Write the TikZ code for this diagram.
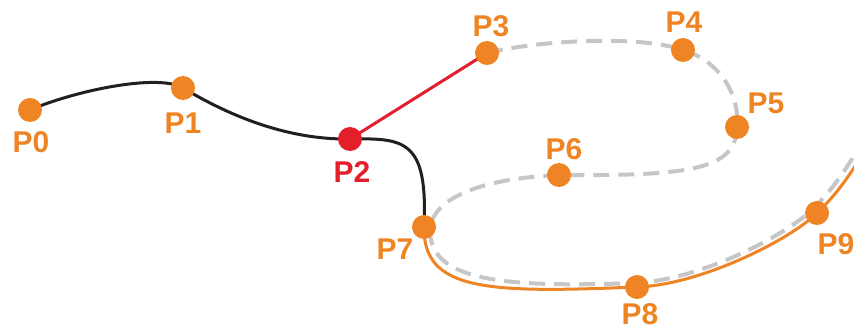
\documentclass[tikz,border=0pt]{standalone}
\usepackage{fontspec}
\setmainfont{Liberation Sans}
\definecolor{ptorange}{HTML}{EE8424}
\definecolor{ptred}{HTML}{E21F2B}
\definecolor{ptblack}{HTML}{231F20}
\definecolor{ptgray}{HTML}{C6C6C6}
\begin{document}
\begin{tikzpicture}[x=1pt,y=-1pt]
    \tikzstyle{dot} = [circle, fill=ptorange, inner sep=0pt, minimum size=24pt]
    \tikzstyle{reddot} = [dot, fill=ptred]
    \tikzstyle{lbl} = [text=ptorange, font=\fontsize{30}{33}\selectfont\bfseries, inner sep=0pt]
    \tikzstyle{blackline} = [line width=3pt, ptblack]
    \tikzstyle{redline} = [line width=3pt, ptred]
    \tikzstyle{orangeline} = [line width=3pt, ptorange]
    \tikzstyle{guide} = [line width=4pt, ptgray, dash pattern=on 16pt off 9pt]

    \clip (0,0) rectangle (854,334);

    % control points
    \coordinate (p0) at (30,110);
    \coordinate (p1) at (183,88);
    \coordinate (p2) at (350,139);
    \coordinate (p3) at (487,53);
    \coordinate (p4) at (683,50);
    \coordinate (p5) at (737,127);
    \coordinate (p6) at (559,175);
    \coordinate (p7) at (424,227);
    \coordinate (p8) at (637,287);
    \coordinate (p9) at (817,213);
    \coordinate (oend) at (862,155);
    \coordinate (gend) at (857,151);

    % dashed guide curve
    \draw [guide] (p3) .. controls (540,40) and (640,35) .. (p4)
        .. controls (720,61) and (740,95) .. (p5)
        .. controls (736,170) and (690,176) .. (p6)
        .. controls (490,178) and (430,195) .. (430,232)
        .. controls (432,280) and (500,288) .. (635,283)
        .. controls (700,280) and (785,236) .. (813,209)
        .. controls (830,192) and (843,174) .. (gend);

    % curves
    \draw [orangeline] (p7) .. controls (423,292) and (490,293) .. (p8)
        .. controls (700,285) and (790,240) .. (p9)
        .. controls (835,196) and (848,178) .. (oend);
    \draw [blackline] (p0) .. controls (74,91) and (158,73) .. (p1)
        .. controls (220,110) and (280,140) .. (p2)
        .. controls (405,138) and (428,140) .. (p7);
    \draw [redline] (p2) -- (p3);

    % dots
    \foreach \p in {p0,p1,p3,p4,p5,p6,p7,p8,p9}
        \node [dot] at (\p) {};
    \node [reddot] at (p2) {};

    % labels
    \node [lbl] (t0) at (31,142) {P0};
    \node [lbl] (t1) at (183,123) {P1};
    \node [lbl, text=ptred] (t2) at (352,172) {P2};
    \node [lbl] (t3) at (491,26) {P3};
    \node [lbl] (t4) at (684,22) {P4};
    \node [lbl] (t5) at (766,103) {P5};
    \node [lbl] (t6) at (564,149) {P6};
    \node [lbl] (t7) at (395,249) {P7};
    \node [lbl] (t8) at (640,314) {P8};
    \node [lbl] (t9) at (836,244) {P9};
\end{tikzpicture}
\end{document}
